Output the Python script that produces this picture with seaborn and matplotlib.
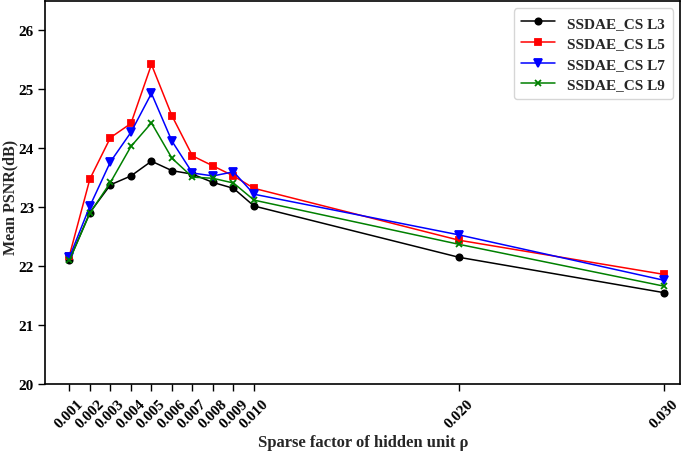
import pandas as pd
import matplotlib
matplotlib.use("Agg")
import matplotlib.pyplot as plt
import seaborn as sns

sns.set_theme(style="ticks")
plt.rcParams['font.family'] = ['Liberation Serif', 'DejaVu Serif']
plt.rcParams['font.weight'] = 'bold'

# sparse factor values (x)
rho = [0.001, 0.002, 0.003, 0.004, 0.005, 0.006, 0.007, 0.008, 0.009, 0.010, 0.020, 0.030]
rho_labels = ['0.001', '0.002', '0.003', '0.004', '0.005', '0.006', '0.007',
              '0.008', '0.009', '0.010', '0.020', '0.030']

psnr_l3 = [22.10, 22.91, 23.38, 23.53, 23.78, 23.62, 23.56, 23.42, 23.32, 23.02, 22.15, 21.55]
psnr_l5 = [22.18, 23.48, 24.18, 24.42, 25.42, 24.55, 23.87, 23.70, 23.53, 23.32, 22.44, 21.86]
psnr_l7 = [22.15, 23.02, 23.77, 24.27, 24.93, 24.12, 23.58, 23.53, 23.60, 23.22, 22.53, 21.76]
psnr_l9 = [22.10, 22.90, 23.42, 24.03, 24.43, 23.83, 23.51, 23.49, 23.41, 23.12, 22.37, 21.66]

series_names = ['SSDAE_CS L3', 'SSDAE_CS L5', 'SSDAE_CS L7', 'SSDAE_CS L9']
series_vals = [psnr_l3, psnr_l5, psnr_l7, psnr_l9]
colors = ['black', 'red', 'blue', 'green']
markers = ['o', 's', 'v', 'x']
msizes = [4.5, 4.5, 5.5, 4]

fig = plt.figure(figsize=(6.85, 4.52), dpi=100)
ax = fig.add_axes([0.066, 0.148, 0.927, 0.848])

for name, vals, c, m, ms in zip(series_names, series_vals, colors, markers, msizes):
    df = pd.DataFrame({'rho': rho, 'psnr': vals})
    sns.lineplot(data=df, x='rho', y='psnr', ax=ax, color=c, marker=m,
                 markersize=ms, markeredgecolor=c, markeredgewidth=1.3,
                 linewidth=1.1, label=name)

ax.set_xlim(-0.00018, 0.03078)
ax.set_ylim(20, 26.5)
ax.set_xticks(rho)
ax.set_xticklabels(rho_labels, rotation=45, fontsize=11, fontweight='bold')
ax.set_yticks([20, 21, 22, 23, 24, 25, 26])
ax.set_yticklabels(['20', '21', '22', '23', '24', '25', '26'], fontsize=11, fontweight='bold')
ax.tick_params(direction='out', length=5, width=1, colors='black', pad=4)
ax.tick_params(axis='y', pad=3)
for s in ax.spines.values():
    s.set_visible(True)
    s.set_color('black')
    s.set_linewidth(1.2)

ax.set_xlabel('Sparse factor of hidden unit ρ', fontsize=12, fontweight='bold', labelpad=3)
ax.set_ylabel('Mean PSNR(dB)', fontsize=11.5, fontweight='bold')
ax.yaxis.set_label_coords(-0.043, 0.49)

leg = ax.legend(loc='upper right', prop={'weight': 'bold', 'size': 11},
                frameon=True, handlelength=2.2, borderpad=0.5, labelspacing=0.45)
leg.get_frame().set_edgecolor('#cccccc')

fig.savefig('out.png', dpi=100)
